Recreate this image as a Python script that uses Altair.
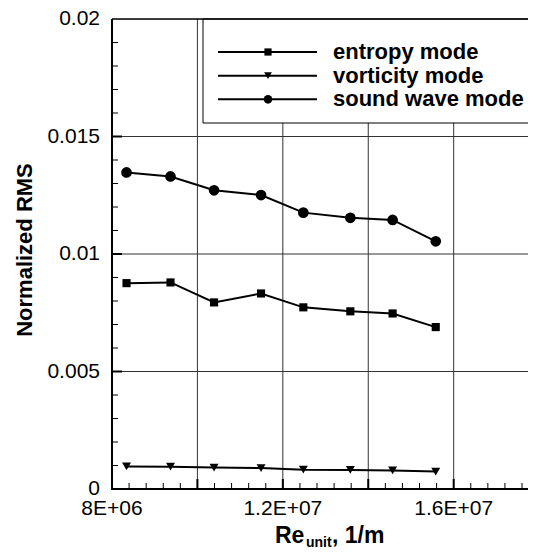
import altair as alt
import pandas as pd

# ---------------- data ----------------
series = ["entropy mode", "vorticity mode", "sound wave mode"]
re_unit = [8.34e6, 9.37e6, 10.39e6, 11.49e6, 12.48e6, 13.58e6, 14.57e6, 15.58e6]
entropy = [0.00876, 0.00879, 0.00794, 0.00832, 0.00773, 0.00756, 0.00747, 0.00689]
vorticity = [0.00096, 0.00095, 0.00091, 0.00089, 0.00082, 0.00081, 0.00079, 0.00074]
sound = [0.01347, 0.01330, 0.01271, 0.01251, 0.01176, 0.01154, 0.01145, 0.01054]
shapes = ["square", "triangle-down", "circle"]
marker_sizes = [66, 80, 115]
legend_marker_sizes = [52, 60, 75]

x_ticks = [8e6, 1.0e7, 1.2e7, 1.4e7, 1.6e7]
x_tick_labels = ["8E+06", "", "1.2E+07", "", "1.6E+07"]
x_minor = [8e6 + 4e5 * i for i in range(1, 25) if i % 5 != 0]
y_ticks = [0.0, 0.005, 0.01, 0.015, 0.02]
y_tick_labels = ["0", "0.005", "0.01", "0.015", "0.02"]
y_minor = [0.001 * i for i in range(1, 20) if i % 5 != 0]
y_title = "Normalized RMS"
x_title = ["Re", "unit", ", 1/m"]

FONT = "Liberation Sans"
W, H = 416, 470

rows = []
for name, vals, ms in zip(series, [entropy, vorticity, sound], marker_sizes):
    for xv, yv in zip(re_unit, vals):
        rows.append({"re": xv, "value": yv, "series": name, "msize": ms})
df = pd.DataFrame(rows)

xs = alt.Scale(domain=[8e6, 1.774e7], nice=False, zero=False)
ys = alt.Scale(domain=[0, 0.02], nice=False, zero=False)

# ---------------- frame, grid, ticks, labels ----------------
xgrid_df = pd.DataFrame({"v": x_ticks[1:]})
ygrid_df = pd.DataFrame({"v": y_ticks[1:-1]})
xlab_df = pd.DataFrame({"v": x_ticks, "t": x_tick_labels})
ylab_df = pd.DataFrame({"v": y_ticks, "t": y_tick_labels})
xmin_df = pd.DataFrame({"v": x_minor})
ymin_df = pd.DataFrame({"v": y_minor})

xgrid = alt.Chart(xgrid_df).mark_rule(color="#333333", strokeWidth=1).encode(
    x=alt.X("v:Q", scale=xs, axis=None), y=alt.value(0), y2=alt.value(H))
ygrid = alt.Chart(ygrid_df).mark_rule(color="#333333", strokeWidth=1).encode(
    y=alt.Y("v:Q", scale=ys, axis=None), x=alt.value(0), x2=alt.value(W))

xt_major = alt.Chart(xgrid_df).mark_rule(color="black", strokeWidth=2).encode(
    x=alt.X("v:Q", scale=xs, axis=None), y=alt.value(H), y2=alt.value(H - 10))
xt_minor = alt.Chart(xmin_df).mark_rule(color="black", strokeWidth=1).encode(
    x=alt.X("v:Q", scale=xs, axis=None), y=alt.value(H), y2=alt.value(H - 6))
yt_major = alt.Chart(ygrid_df).mark_rule(color="black", strokeWidth=2).encode(
    y=alt.Y("v:Q", scale=ys, axis=None), x=alt.value(0), x2=alt.value(10))
yt_minor = alt.Chart(ymin_df).mark_rule(color="black", strokeWidth=1).encode(
    y=alt.Y("v:Q", scale=ys, axis=None), x=alt.value(0), x2=alt.value(6))

xlabels = alt.Chart(xlab_df).mark_text(
    font=FONT, fontSize=21, color="black", align="center", baseline="top"
).encode(x=alt.X("v:Q", scale=xs, axis=None), y=alt.value(H + 9), text="t:N")
ylabels = alt.Chart(ylab_df).mark_text(
    font=FONT, fontSize=21, color="black", align="right", baseline="middle"
).encode(y=alt.Y("v:Q", scale=ys, axis=None), x=alt.value(-12), text="t:N")

one = pd.DataFrame({"a": [0]})
left_line = alt.Chart(one).mark_rule(color="black", strokeWidth=2).encode(
    x=alt.value(0), y=alt.value(0), y2=alt.value(H + 1))
bottom_line = alt.Chart(one).mark_rule(color="black", strokeWidth=2).encode(
    x=alt.value(-1), x2=alt.value(W + 10), y=alt.value(H))
top_line = alt.Chart(one).mark_rule(color="black", strokeWidth=1.5).encode(
    x=alt.value(0), x2=alt.value(W + 10), y=alt.value(0))
legend_box = alt.Chart(one).mark_rect(fill="white", stroke="black", strokeWidth=1).encode(
    x=alt.value(91), x2=alt.value(W + 20), y=alt.value(0), y2=alt.value(104))

# ---------------- data marks ----------------
lines = alt.Chart(df).mark_line(color="black", strokeWidth=2).encode(
    x=alt.X("re:Q", scale=xs, axis=None),
    y=alt.Y("value:Q", scale=ys, axis=None),
    detail="series:N",
)
points = alt.Chart(df).mark_point(filled=True, color="black", opacity=1).encode(
    x=alt.X("re:Q", scale=xs, axis=None),
    y=alt.Y("value:Q", scale=ys, axis=None),
    shape=alt.Shape("series:N", scale=alt.Scale(domain=series, range=shapes), legend=None),
    size=alt.Size("msize:Q", scale=None, legend=None),
)

# ---------------- titles ----------------
t_y = alt.Chart(pd.DataFrame({"t": [y_title]})).mark_text(
    font=FONT, fontSize=22, fontWeight="bold", color="black", align="center",
    baseline="alphabetic", angle=270
).encode(text="t:N", x=alt.value(-80), y=alt.value(231))
t_re = alt.Chart(pd.DataFrame({"t": [x_title[0]]})).mark_text(
    font=FONT, fontSize=23, fontWeight="bold", color="black", align="left", baseline="alphabetic"
).encode(text="t:N", x=alt.value(163), y=alt.value(524))
t_sub = alt.Chart(pd.DataFrame({"t": [x_title[1]]})).mark_text(
    font=FONT, fontSize=14, fontWeight="bold", color="black", align="left", baseline="alphabetic"
).encode(text="t:N", x=alt.value(194), y=alt.value(528))
t_rest = alt.Chart(pd.DataFrame({"t": [x_title[2]]})).mark_text(
    font=FONT, fontSize=23, fontWeight="bold", color="black", align="left", baseline="alphabetic"
).encode(text="t:N", x=alt.value(220), y=alt.value(524))

# ---------------- legend ----------------
leg_df = pd.DataFrame({"series": series, "lsize": legend_marker_sizes})
row_y = alt.Y("series:N", scale=alt.Scale(type="point", domain=series, range=[33, 80.3], padding=0), axis=None)
leg_lines = alt.Chart(leg_df).mark_rule(color="black", strokeWidth=2).encode(
    y=row_y, x=alt.value(106), x2=alt.value(205))
leg_pts = alt.Chart(leg_df).mark_point(filled=True, color="black", opacity=1).encode(
    y=row_y, x=alt.value(156),
    shape=alt.Shape("series:N", scale=alt.Scale(domain=series, range=shapes), legend=None),
    size=alt.Size("lsize:Q", scale=None, legend=None))
leg_text = alt.Chart(leg_df).mark_text(
    font=FONT, fontSize=22, fontWeight="bold", color="black", align="left", baseline="middle"
).encode(y=row_y, x=alt.value(221), text="series:N")

chart = alt.layer(
    xgrid, ygrid, xt_major, xt_minor, yt_major, yt_minor,
    legend_box, left_line, bottom_line, top_line,
    lines, points, xlabels, ylabels, t_y, t_re, t_sub, t_rest,
    leg_lines, leg_pts, leg_text,
).resolve_scale(y="independent").properties(
    width=W, height=H,
    autosize=alt.AutoSizeParams(type="none"),
    padding={"left": 104, "top": 11, "right": 0, "bottom": 61},
).configure_view(stroke=None).configure(background="white")

chart.save("out.html", embed_options={"renderer": "svg", "actions": False})
